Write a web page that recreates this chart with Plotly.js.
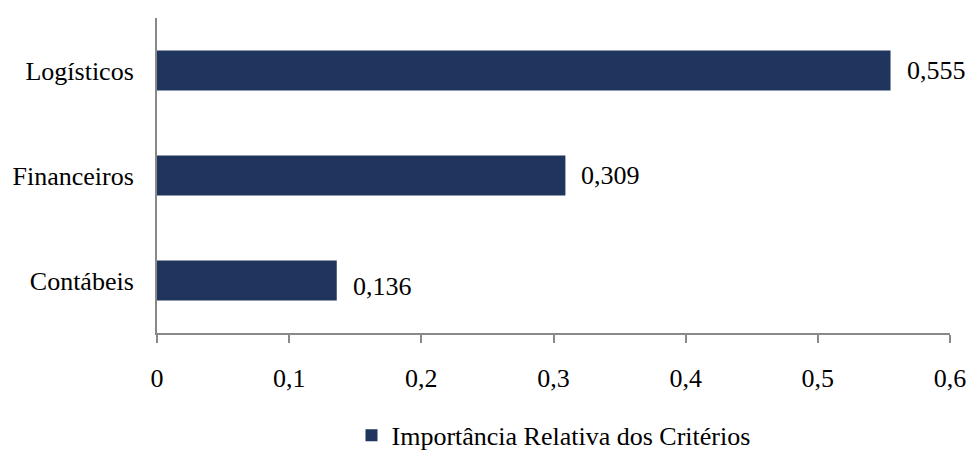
<!DOCTYPE html>
<html>
<head>
<meta charset="utf-8">
<script src="https://cdn.plot.ly/plotly-3.0.1.min.js"></script>
<style>html,body{margin:0;padding:0;background:#fff;}#chart{width:969px;height:452px;}</style>
</head>
<body>
<div id="chart"></div>
<script>
const categories = ["Contábeis", "Financeiros", "Logísticos"];
const values = [0.136, 0.309, 0.555];
const seriesName = "Importância Relativa dos Critérios";
const xTicks = [0, 0.1, 0.2, 0.3, 0.4, 0.5, 0.6];

const FONT = "'Liberation Serif', 'Times New Roman', serif";
const BAR = "#1F355E";

const trace = {
  type: "bar",
  orientation: "h",
  x: values,
  y: categories,
  name: seriesName,
  marker: {color: BAR},
  showlegend: true,
  hoverinfo: "none"
};

const annotations = values.map((v, i) => ({
  x: v, y: categories[i], xref: "x", yref: "y",
  text: v.toFixed(3).replace(".", ","),
  showarrow: false, xanchor: "left", yanchor: "middle",
  xshift: 14, yshift: i === 0 ? -6 : 0,
  font: {family: FONT, size: 26, color: "#000"}
}));

const layout = {
  width: 969, height: 452,
  margin: {l: 157, r: 19, t: 18, b: 119, autoexpand: false},
  paper_bgcolor: "#fff", plot_bgcolor: "#fff",
  separators: ",.",
  bargap: 0.62,
  font: {family: FONT, size: 26, color: "#000"},
  xaxis: {
    range: [0, 0.6], tickvals: xTicks,
    showgrid: false, zeroline: false,
    showline: true, linecolor: "#898989", linewidth: 2,
    ticks: "outside", ticklen: 8, tickwidth: 2, tickcolor: "#898989",
    ticklabelstandoff: 13,
    tickfont: {family: FONT, size: 26, color: "#000"},
    automargin: false,
    fixedrange: true
  },
  yaxis: {
    type: "category",
    categoryorder: "array", categoryarray: categories,
    showgrid: false, zeroline: false,
    showline: true, linecolor: "#898989", linewidth: 2,
    ticks: "", ticklabelstandoff: 16,
    tickfont: {family: FONT, size: 26, color: "#000"},
    automargin: false,
    fixedrange: true
  },
  showlegend: true,
  legend: {
    orientation: "h", x: 0.5, xanchor: "center",
    y: -0.325, yanchor: "middle",
    font: {family: FONT, size: 26, color: "#000"},
    itemclick: false, itemdoubleclick: false
  },
  annotations: annotations
};

Plotly.newPlot("chart", [trace], layout, {displayModeBar: false, staticPlot: true});
</script>
</body>
</html>
